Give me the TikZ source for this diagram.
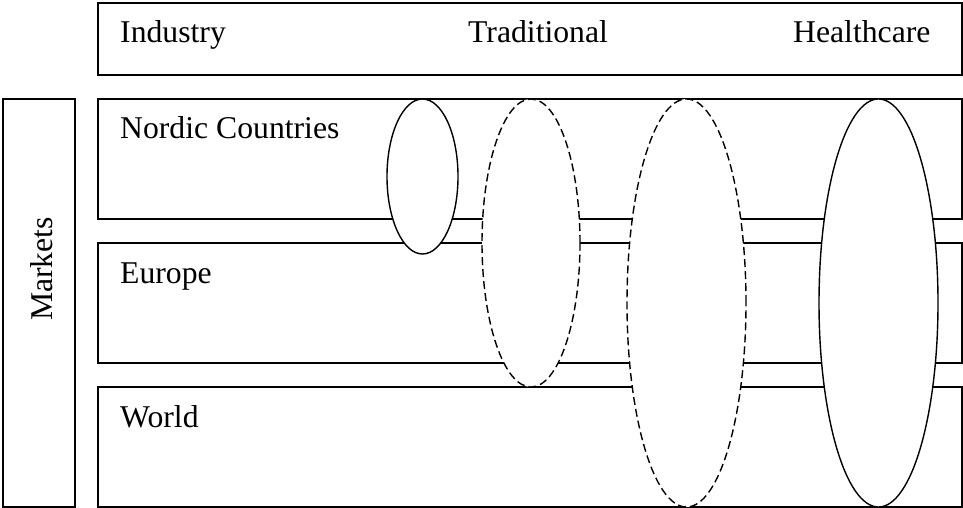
\documentclass[tikz,border=0pt]{standalone}
\usepackage{fontspec}
\setmainfont{Liberation Serif}
\usetikzlibrary{shapes.geometric}

\begin{document}
\begin{tikzpicture}[
  x=1pt,y=-1pt,
  box/.style={rectangle,draw=black,fill=white,line width=1.4pt,inner sep=0pt,outer sep=0pt,anchor=north west},
  field/.style={ellipse,draw=black,fill=white,line width=1.4pt,inner sep=0pt,outer sep=0pt},
  dfield/.style={field,dash pattern=on 8pt off 4pt},
  lbl/.style={inner sep=0pt,font=\fontsize{31.7}{38}\selectfont}
]
\useasboundingbox (0,0) rectangle (963,508);
% boxes
\node[box,minimum width=864pt,minimum height=72pt] (head) at (98,3) {};
\node[box,minimum width=72pt,minimum height=408pt] (mkt) at (3,99) {};
\node[box,minimum width=864pt,minimum height=120pt] (nordic) at (98,99) {};
\node[box,minimum width=864pt,minimum height=120pt] (europe) at (98,243) {};
\node[box,minimum width=864pt,minimum height=120pt] (world) at (98,387) {};
% segments
\node[field,minimum width=71pt,minimum height=155pt] (e1) at (422.5,176.5) {};
\node[dfield,minimum width=98pt,minimum height=288pt] (e2) at (531,243) {};
\node[dfield,minimum width=119pt,minimum height=408pt] (e3) at (686.5,303) {};
\node[field,minimum width=119pt,minimum height=408pt] (e4) at (878.5,303) {};
% labels
\node[lbl,anchor=base west] (tind) at (120,43) {Industry};
\node[lbl,anchor=base west] (ttrad) at (468,43) {Traditional};
\node[lbl,anchor=base west] (theal) at (793,43) {Healthcare};
\node[lbl,anchor=base west] (tnord) at (120,139) {Nordic Countries};
\node[lbl,anchor=base west] (teur) at (120,283) {Europe};
\node[lbl,anchor=base west] (twld) at (120,427) {World};
\node[lbl,anchor=base,rotate=90] (tmkt) at (52,269) {Markets};
\end{tikzpicture}
\end{document}
